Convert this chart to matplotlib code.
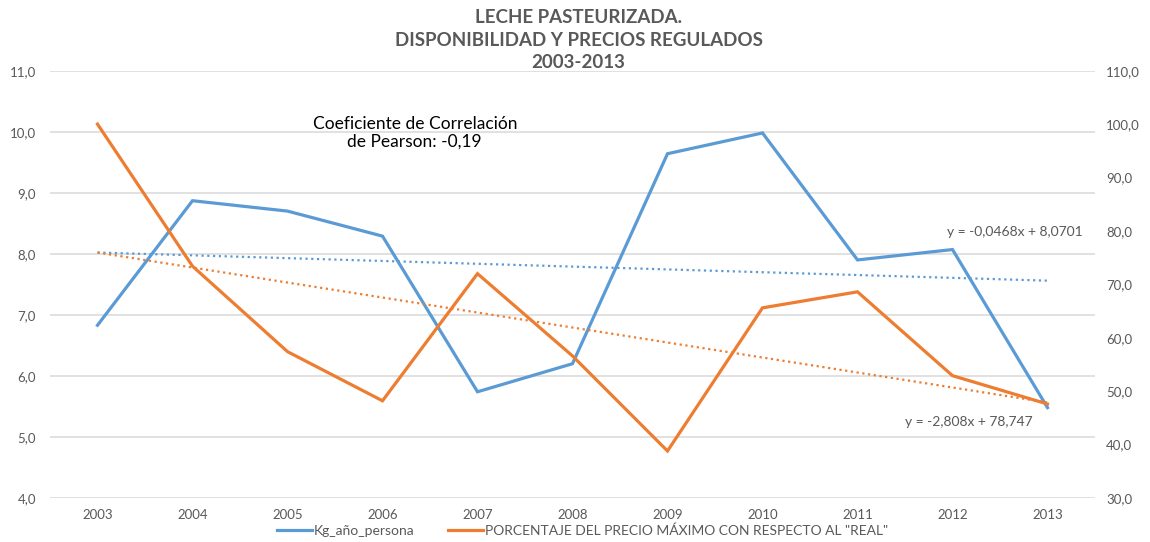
import numpy as np
import matplotlib
matplotlib.use("Agg")
import matplotlib.pyplot as plt

# Datos
anios = ["2003", "2004", "2005", "2006", "2007", "2008", "2009", "2010", "2011", "2012", "2013"]
kg_anio_persona = [6.83, 8.87, 8.70, 8.29, 5.74, 6.20, 9.64, 9.98, 7.90, 8.07, 5.48]
porcentaje_precio = [100.0, 73.4, 57.4, 48.2, 72.0, 56.6, 38.8, 65.6, 68.6, 52.9, 47.6]

etiqueta_kg = "Kg_año_persona"
etiqueta_pct = 'PORCENTAJE DEL PRECIO MÁXIMO CON RESPECTO AL "REAL"'
ecuacion_kg = "y = -0,0468x + 8,0701"
ecuacion_pct = "y = -2,808x + 78,747"
texto_pearson = "Coeficiente de Correlación\nde Pearson: -0,19"
titulo = "LECHE PASTEURIZADA.\nDISPONIBILIDAD Y PRECIOS REGULADOS\n2003-2013"

AZUL = "#5B9BD5"
NARANJA = "#ED7D31"
GRIS = "#595959"
GRILLA = "#D9D9D9"

plt.rcParams["font.family"] = ["Lato", "DejaVu Sans"]

fig = plt.figure(figsize=(11.5, 5.42), dpi=100)
ax = fig.add_axes([50 / 1150, 1 - 498 / 542, 1045 / 1150, (498 - 70.7) / 542])
ax2 = ax.twinx()

x = np.arange(len(anios))

# líneas principales
l1, = ax.plot(x, kg_anio_persona, color=AZUL, lw=2.3, solid_joinstyle="miter", zorder=3)
l2, = ax2.plot(x, porcentaje_precio, color=NARANJA, lw=2.3, solid_joinstyle="miter", zorder=3)

# líneas de tendencia (x = 1..11 como en Excel)
xt = x + 1
c1 = np.polyfit(xt, kg_anio_persona, 1)
c2 = np.polyfit(xt, porcentaje_precio, 1)
ax.plot(x, np.polyval(c1, xt), color=AZUL, lw=1.6, ls=(0, (1, 1.6)), zorder=2)
ax2.plot(x, np.polyval(c2, xt), color=NARANJA, lw=1.6, ls=(0, (1, 1.6)), zorder=2)

ax.set_xlim(-0.5, len(anios) - 0.5)
ax.set_ylim(4, 11)
ax2.set_ylim(30, 110)
ax.set_yticks(np.arange(4, 11.01, 1))
ax2.set_yticks(np.arange(30, 110.01, 10))
ax.set_yticklabels([f"{v:.1f}".replace(".", ",") for v in np.arange(4, 11.01, 1)])
ax2.set_yticklabels([f"{v:.1f}".replace(".", ",") for v in np.arange(30, 110.01, 10)])
ax.set_xticks(x)
ax.set_xticklabels(anios)

ax.grid(axis="y", color=GRILLA, lw=1.1)
ax.set_axisbelow(True)
for a in (ax, ax2):
    for s in a.spines.values():
        s.set_visible(False)
    a.tick_params(length=0, labelsize=9.5, labelcolor=GRIS)
ax.tick_params(axis="y", pad=10)
ax.tick_params(axis="x", pad=8)
ax2.tick_params(axis="y", pad=8)

# textos
ax.text(9.66, 8.36, ecuacion_kg, ha="center", va="center", fontsize=10, color=GRIS)
ax.text(9.17, 5.25, ecuacion_pct, ha="center", va="center", fontsize=10, color=GRIS)
ax.text(3.34, 9.98, texto_pearson, ha="center", va="center", fontsize=12.5,
        color="black", linespacing=1.15)

fig.text(0.503, 0.926, titulo, ha="center", va="center", fontsize=13.5,
         fontweight="bold", color=GRIS, linespacing=1.4)

fig.legend([l1, l2], [etiqueta_kg, etiqueta_pct], loc="center",
           bbox_to_anchor=(0.5065, 1 - 531 / 542), ncol=2, frameon=False,
           fontsize=10, labelcolor=GRIS, handlelength=2.5, handletextpad=0.15,
           columnspacing=2.4)

fig.savefig("out.png", dpi=100)
